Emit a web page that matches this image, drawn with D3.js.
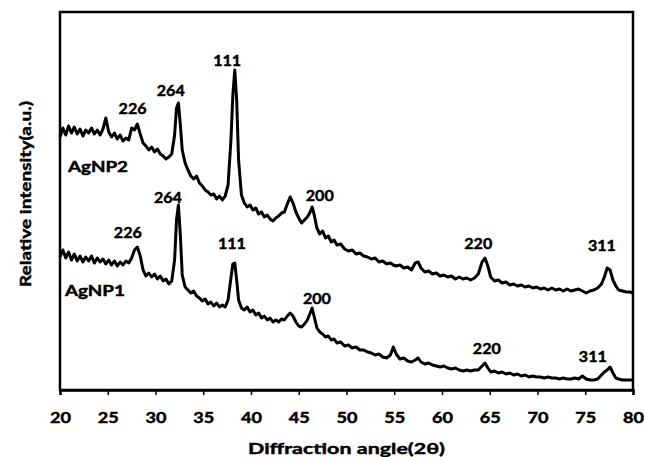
<!DOCTYPE html>
<html>
<head>
<meta charset="utf-8">
<script src="https://cdn.jsdelivr.net/npm/d3@7"></script>
<style>
  html, body { margin: 0; padding: 0; background: #fff; }
  svg { display: block; }
  text { font-family: Lato, "Open Sans", sans-serif; font-weight: bold; fill: #000; stroke: #000; stroke-width: 0.45px; }
</style>
</head>
<body>
<svg id="chart" width="645" height="457"></svg>
<script>
// ---- data (2θ in degrees, intensity in arbitrary units) ----
const xTicks = [20, 25, 30, 35, 40, 45, 50, 55, 60, 65, 70, 75, 80];
const xTitle = "Diffraction angle(2θ)";
const yTitle = "Relative intensity(a.u.)";
const seriesNames = ["AgNP1", "AgNP2"];

const agnp2 = [
[20.0,253],[20.3,262],[20.6,255],[20.9,264],[21.2,257],[21.5,263],[21.8,256],[22.1,261],[22.4,254],[22.7,260],
[23.0,257],[23.3,262],[23.6,256],[23.9,260],[24.2,255],[24.5,261],[24.8,272],[25.1,258],[25.4,253],[25.7,257],
[26.0,251],[26.3,255],[26.6,249],[26.9,252],[27.2,250],[27.5,262],[27.8,260],[28.1,266],[28.4,256],[28.7,247],
[29.0,244],[29.3,240],[29.6,243],[29.9,238],[30.2,241],[30.5,236],[30.8,234],[31.1,231],[31.4,233],[31.7,236],
[32.0,255],[32.2,282],[32.4,287],[32.6,265],[32.8,240],[33.1,227],[33.4,220],[33.7,214],[34.0,211],[34.3,214],
[34.6,207],[34.9,204],[35.2,200],[35.5,198],[35.8,195],[36.1,196],[36.4,191],[36.7,194],[37.0,190],[37.3,194],
[37.6,205],[37.9,250],[38.1,295],[38.3,320],[38.5,290],[38.7,230],[39.0,195],[39.3,187],[39.6,183],[39.9,185],
[40.2,180],[40.5,182],[40.8,176],[41.1,178],[41.4,173],[41.7,175],[42.0,171],[42.3,169],[42.6,172],[42.9,174],
[43.2,177],[43.5,178],[43.8,186],[44.1,193],[44.4,187],[44.7,178],[45.0,172],[45.3,167],[45.6,170],[45.9,173],
[46.2,178],[46.4,183],[46.6,176],[46.9,162],[47.2,156],[47.5,159],[47.8,152],[48.1,154],[48.4,148],[48.7,150],
[49.0,145],[49.4,146],[49.8,141],[50.2,139],[50.6,140],[51.0,136],[51.4,137],[51.8,134],[52.2,133],[52.6,131],
[53.0,132],[53.4,128],[53.8,129],[54.2,126],[54.6,127],[54.9,125],[55.2,124],[55.6,125],[56.0,122],[56.4,123],
[56.8,120],[57.2,127],[57.5,128],[57.8,122],[58.2,118],[58.6,119],[59.0,116],[59.4,117],[59.8,114],[60.2,115],
[60.6,113],[61.0,114],[61.4,111],[61.8,113],[62.2,111],[62.6,112],[63.0,110],[63.4,112],[63.8,116],[64.2,128],
[64.5,132],[64.8,124],[65.1,113],[65.5,109],[65.9,110],[66.3,107],[66.7,108],[67.1,105],[67.5,106],[67.9,104],
[68.3,105],[68.7,103],[69.1,104],[69.5,102],[69.9,103],[70.3,101],[70.7,102],[71.1,100],[71.5,102],[71.9,100],
[72.3,101],[72.7,99],[73.1,101],[73.5,99],[73.9,100],[74.3,101],[74.7,99],[75.1,97],[75.5,99],[75.9,100],
[76.3,102],[76.7,106],[77.0,113],[77.3,122],[77.6,120],[77.9,110],[78.2,104],[78.5,100],[78.9,99],[79.3,98],
[79.7,98],[80.0,97]
];

const agnp1 = [
[20.0,133],[20.3,140],[20.6,132],[20.9,138],[21.2,130],[21.5,136],[21.8,129],[22.1,134],[22.4,128],[22.7,133],
[23.0,129],[23.3,134],[23.6,127],[23.9,132],[24.2,128],[24.5,131],[24.8,126],[25.1,130],[25.4,125],[25.7,129],
[26.0,124],[26.3,128],[26.6,125],[26.9,129],[27.2,127],[27.5,132],[27.8,140],[28.1,143],[28.4,134],[28.7,120],
[29.0,114],[29.3,117],[29.6,113],[29.9,116],[30.2,111],[30.5,114],[30.8,109],[31.1,111],[31.4,106],[31.7,109],
[32.0,130],[32.2,170],[32.4,185],[32.6,155],[32.8,115],[33.1,103],[33.4,100],[33.7,97],[34.0,99],[34.3,94],
[34.6,92],[34.9,89],[35.2,91],[35.5,86],[35.8,88],[36.1,84],[36.4,87],[36.7,83],[37.0,85],[37.3,83],
[37.6,90],[37.9,112],[38.1,126],[38.3,127],[38.5,110],[38.7,90],[39.0,82],[39.3,80],[39.6,83],[39.9,78],
[40.2,80],[40.5,75],[40.8,77],[41.1,72],[41.4,74],[41.7,70],[42.0,72],[42.3,68],[42.6,70],[42.9,68],
[43.2,71],[43.5,70],[43.8,74],[44.1,77],[44.4,74],[44.7,68],[45.0,64],[45.3,63],[45.6,66],[45.9,70],
[46.2,77],[46.4,82],[46.6,74],[46.9,62],[47.2,58],[47.5,56],[47.8,53],[48.1,54],[48.4,50],[48.7,51],
[49.0,47],[49.4,48],[49.8,44],[50.2,45],[50.6,42],[51.0,43],[51.4,40],[51.8,40],[52.2,38],[52.6,37],
[53.0,35],[53.4,36],[53.8,33],[54.2,32],[54.6,35],[54.9,43],[55.2,36],[55.6,31],[56.0,32],[56.4,29],
[56.8,28],[57.2,30],[57.5,32],[57.8,28],[58.2,26],[58.6,27],[59.0,25],[59.4,24],[59.8,23],[60.2,24],
[60.6,22],[61.0,21],[61.4,22],[61.8,20],[62.2,19],[62.6,20],[63.0,19],[63.4,20],[63.8,20],[64.2,24],
[64.5,27],[64.8,22],[65.1,18],[65.5,19],[65.9,17],[66.3,18],[66.7,16],[67.1,17],[67.5,15],[67.9,16],
[68.3,14],[68.7,15],[69.1,13],[69.5,14],[69.9,13],[70.3,13],[70.7,12],[71.1,13],[71.5,12],[71.9,12],
[72.3,11],[72.7,12],[73.1,11],[73.5,11],[73.9,12],[74.3,11],[74.7,14],[75.1,11],[75.5,10],[75.9,10],
[76.3,11],[76.7,15],[77.0,18],[77.3,20],[77.6,23],[77.9,17],[78.2,12],[78.5,11],[78.9,10],[79.3,10],
[79.7,10],[80.0,10]
];

// peak labels: [text, 2θ of label centre, intensity at label baseline]
const peakLabels2 = [["226",27.6,276],["264",31.6,294],["111",37.5,324],["200",47.2,189],["220",63.8,141],["311",76.75,139]];
const peakLabels1 = [["226",27.1,152],["264",31.3,187],["111",38.0,141],["200",46.9,86],["220",64.7,36],["311",75.8,28]];
const nameLabels = [["AgNP2",20.84,218],["AgNP1",20.52,94]];

// ---- layout ----
const svg = d3.select("#chart");
const margin = {left: 60, right: 12, top: 12, bottom: 67};
const W = 645, H = 457;
const x = d3.scaleLinear().domain([20, 80]).range([margin.left, W - margin.right]);
const y = d3.scaleLinear().domain([0, 378]).range([H - margin.bottom, margin.top]);

const line = d3.line().x(d => x(d[0])).y(d => y(d[1])).curve(d3.curveLinear);

// curves
[agnp1, agnp2].forEach(s => {
  svg.append("path").datum(s).attr("d", line)
    .attr("fill", "none").attr("stroke", "#000").attr("stroke-width", 3)
    .attr("stroke-linejoin", "round");
});

// frame
svg.append("rect")
  .attr("x", x(20)).attr("y", y(378))
  .attr("width", x(80) - x(20)).attr("height", y(0) - y(378))
  .attr("fill", "none").attr("stroke", "#000").attr("stroke-width", 2.5);

// x axis
const xAxis = d3.axisBottom(x).tickValues(xTicks).tickSize(5).tickPadding(17).tickFormat(d3.format("d"));
const gx = svg.append("g").attr("transform", `translate(0,${y(0)})`).call(xAxis);
gx.select(".domain").attr("stroke", "#000").attr("stroke-width", 2.5);
gx.selectAll(".tick line").attr("stroke", "#000").attr("stroke-width", 1.5);
gx.selectAll(".tick text").attr("font-size", 15).attr("font-family", "Lato, sans-serif")
  .attr("font-weight", "bold").attr("fill", "#000")
  .attr("textLength", 21).attr("lengthAdjust", "spacingAndGlyphs");

// axis titles
svg.append("text").attr("x", (x(20) + x(80)) / 2).attr("y", 454)
  .attr("text-anchor", "middle").attr("font-size", 16)
  .attr("textLength", 197).attr("lengthAdjust", "spacingAndGlyphs").text(xTitle);
svg.append("text").attr("transform", `translate(31,194) rotate(-90)`)
  .attr("text-anchor", "middle").attr("font-size", 16)
  .attr("textLength", 186).attr("lengthAdjust", "spacingAndGlyphs").text(yTitle);

// peak labels
[peakLabels2, peakLabels1].forEach(arr => {
  svg.selectAll(null).data(arr).enter().append("text")
    .attr("x", d => x(d[1])).attr("y", d => y(d[2]))
    .attr("text-anchor", "middle").attr("font-size", 15)
    .attr("textLength", 28).attr("lengthAdjust", "spacingAndGlyphs").text(d => d[0]);
});
svg.selectAll(null).data(nameLabels).enter().append("text")
  .attr("x", d => x(d[1])).attr("y", d => y(d[2]))
  .attr("font-size", 15).attr("textLength", 60).attr("lengthAdjust", "spacingAndGlyphs")
  .text(d => d[0]);
</script>
</body>
</html>
